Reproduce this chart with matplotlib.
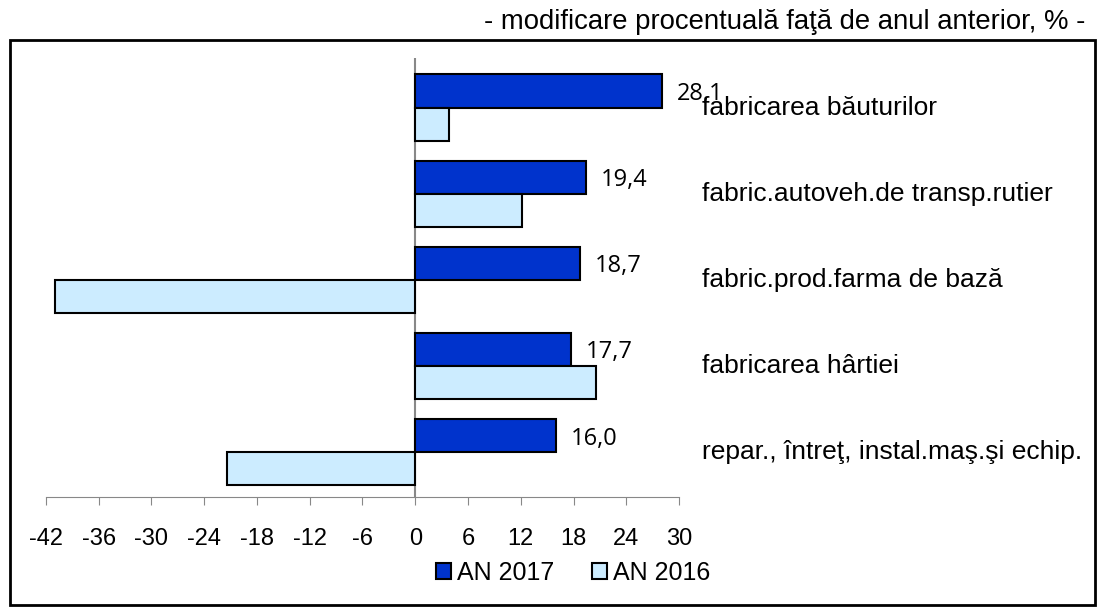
import matplotlib.pyplot as plt
import matplotlib.transforms as mtransforms
from matplotlib.patches import Rectangle

# categories (top to bottom) and values
categories = ['fabricarea băuturilor', 'fabric.autoveh.de transp.rutier',
              'fabric.prod.farma de bază', 'fabricarea hârtiei',
              'repar., întreţ, instal.maş.şi echip.']
an_2017 = [28.1, 19.4, 18.7, 17.7, 16.0]
an_2016 = [3.8, 12.1, -41.0, 20.6, -21.4]
xticks = list(range(-42, 31, 6))

dark = '#0033CC'
light = '#CCECFF'
label_font = 'Liberation Sans'
fs = 19

fig = plt.figure(figsize=(11.09, 6.12), dpi=100)
ax = fig.add_axes([46 / 1109, 115 / 612, (679 - 46) / 1109, (554 - 115) / 612])

pos = list(range(len(categories)))
h = 0.385
ax.barh([p - h / 2 for p in pos], an_2017, height=h, color=dark,
        edgecolor='black', linewidth=1.5, label='AN 2017')
ax.barh([p + h / 2 for p in pos], an_2016, height=h, color=light,
        edgecolor='black', linewidth=1.5, label='AN 2016')

ax.set_xlim(-42, 30)
ax.set_ylim(4.52, -0.575)
ax.set_xticks(xticks)
ax.set_xticklabels([str(t) for t in xticks], fontsize=17, family=label_font)
ax.set_yticks([])

for s in ['top', 'right', 'left']:
    ax.spines[s].set_visible(False)
ax.spines['bottom'].set_color('#888888')
ax.tick_params(axis='x', color='#888888', length=6, pad=16)
ax.axvline(0, color='#888888', linewidth=1.5, zorder=0)

# value labels for 2017
for p, v in zip(pos, an_2017):
    ax.annotate(f'{v:.1f}'.replace('.', ','), (v, p - h / 2),
                xytext=(15, -3), textcoords='offset pixels',
                va='center', ha='left', fontsize=17, family='Open Sans')

# category labels at right
trans = mtransforms.blended_transform_factory(fig.transFigure, ax.transData)
for p, c in zip(pos, categories):
    ax.text(702 / 1109, p, c, transform=trans,
            va='center', ha='left', fontsize=fs, family=label_font)

fig.legend(loc='center', bbox_to_anchor=(573 / 1109, 1 - 573 / 612),
           ncol=2, frameon=False, prop={'family': label_font, 'size': 18},
           handlelength=0.6, handleheight=0.6, handletextpad=0.25,
           columnspacing=1.5)

# outer frame
fig.patches.append(Rectangle((10 / 1109, 7 / 612), (1095 - 10) / 1109, (572 - 7) / 612,
                             transform=fig.transFigure, fill=False,
                             edgecolor='black', linewidth=2))

fig.text(1085 / 1109, 1 - 22 / 612, '- modificare procentuală faţă de anul anterior, % -',
         ha='right', va='center', fontsize=19.8, family=label_font)

plt.savefig('out.png', dpi=100)
